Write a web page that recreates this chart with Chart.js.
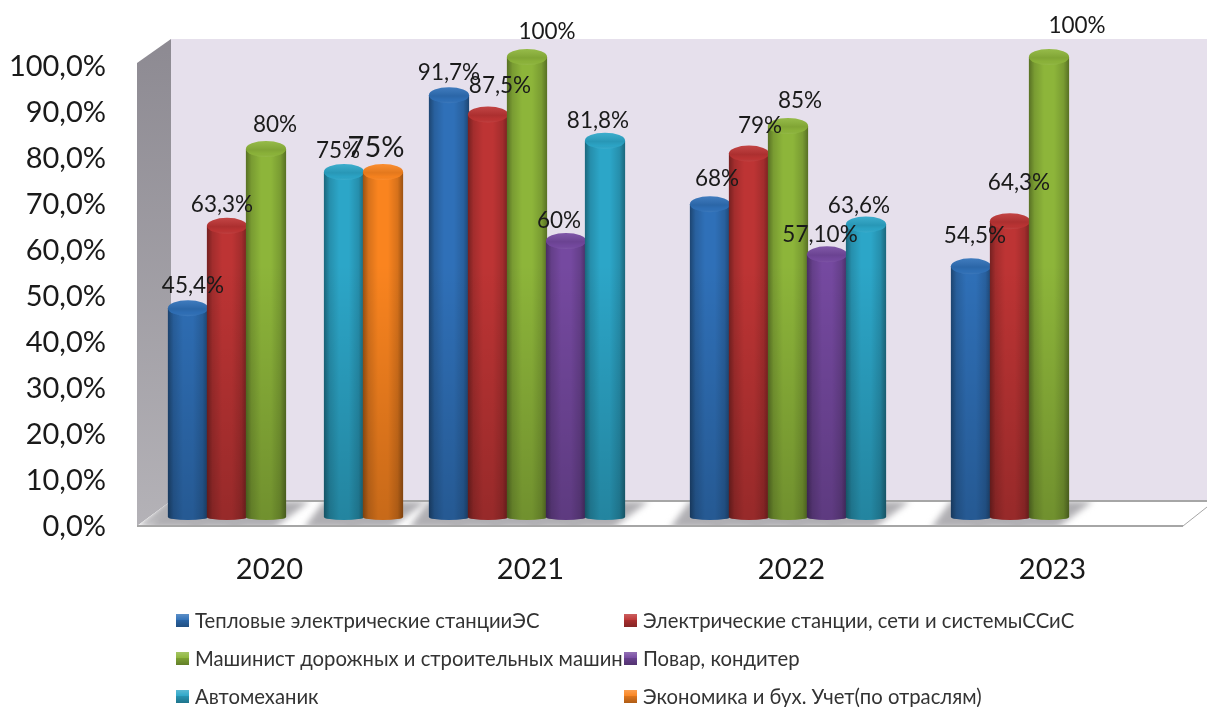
<!DOCTYPE html>
<html><head><meta charset="utf-8">
<style>html,body{margin:0;padding:0;background:#fff}canvas{display:block}</style>
<script src="https://cdn.jsdelivr.net/npm/chart.js@4/dist/chart.umd.min.js"></script>
</head><body><canvas id="c" width="1207" height="707"></canvas>
<script>
const categories = ['2020','2021','2022','2023'];
const seriesNames = ['Тепловые электрические станцииЭС','Электрические станции, сети и системыССиС','Машинист дорожных и строительных машин','Повар, кондитер','Автомеханик','Экономика и бух. Учет(по отраслям)'];
const teplovye = [45.4, 91.7, 68, 54.5];
const elektro = [63.3, 87.5, 79, 64.3];
const mashinist = [80, 100, 85, 100];
const povar = [null, 60, 57.1, null];
const avtomehanik = [75, 81.8, 63.6, null];
const ekonomika = [75, null, null, null];
const teplovyeLabels = ['45,4%','91,7%','68%','54,5%'];
const elektroLabels = ['63,3%','87,5%','79%','64,3%'];
const mashinistLabels = ['80%','100%','85%','100%'];
const povarLabels = [null,'60%','57,10%',null];
const avtomehanikLabels = ['75%','81,8%','63,6%',null];
const ekonomikaLabels = ['75%',null,null,null];

const allValues = [teplovye, elektro, mashinist, povar, avtomehanik, ekonomika];
const allLabels = [teplovyeLabels, elektroLabels, mashinistLabels, povarLabels, avtomehanikLabels, ekonomikaLabels];
const colors = ['#2f70b8','#bd3434','#8db53a','#7549a0','#2ca6c8','#fa841f'];
// hand-placed label nudges of the original, relative to the top of each bar
const labelNudge = [
  [[5,-22],[0,-22],[7,-25],[4,-31]],
  [[-5,-21],[12,-29],[11,-28],[9,-38]],
  [[9,-24],[20,-25],[12,-25],[28,-31]],
  [null,[-7,-20],[-7,-20],null],
  [[-6,-21],[-7,-20],[-7,-19],null],
  [[-7,-24],null,null,null]
];
const FONT = 'Lato, Carlito, "Open Sans", sans-serif';
const DX = 16, DY = -10, DEPTH_X = 32, DEPTH_Y = 25, CAP_RY = 8, FOOT_RY = 3;

const scene = {
  id: 'scene',
  beforeDraw(chart) {
    const {ctx, chartArea: a, scales: {y}} = chart;
    const yF = y.getPixelForValue(0) - 1, y100 = y.getPixelForValue(100) - 1;
    const wallTop = y100 - 27, wallX = a.left + DEPTH_X, backY = yF - DEPTH_Y;
    ctx.save();
    // back wall
    ctx.fillStyle = '#e6e0ec';
    ctx.fillRect(wallX, wallTop, chart.width - wallX, backY - wallTop);
    // side wall
    const g = ctx.createLinearGradient(0, wallTop, 0, yF);
    g.addColorStop(0, '#8d8a92'); g.addColorStop(1, '#b4b2b7');
    ctx.fillStyle = g;
    ctx.beginPath();
    ctx.moveTo(a.left - 2, y100 - 3); ctx.lineTo(wallX, wallTop);
    ctx.lineTo(wallX, backY); ctx.lineTo(a.left - 2, yF);
    ctx.closePath(); ctx.fill();
    // floor
    const floor = new Path2D();
    floor.moveTo(a.left - 2, yF); floor.lineTo(wallX, backY);
    floor.lineTo(chart.width, backY); floor.lineTo(chart.width, yF - 19);
    floor.lineTo(a.right, yF); floor.closePath();
    ctx.fillStyle = '#ffffff'; ctx.fill(floor);
    ctx.save();
    ctx.clip(floor);
    ctx.filter = 'blur(3px)';
    ctx.fillStyle = '#b0afb3';
    ctx.beginPath();
    ctx.moveTo(a.left - 2, yF); ctx.lineTo(wallX, backY);
    ctx.lineTo(a.left + 50, backY); ctx.lineTo(a.left + 10, yF); ctx.closePath(); ctx.fill();
    allValues.forEach((vals, i) => {
      const meta = chart.getDatasetMeta(i);
      vals.forEach((v, j) => {
        if (v === null) return;
        const el = meta.data[j], x = el.x + DX, hw = el.width / 2;
        ctx.beginPath();
        ctx.moveTo(x - hw - 20, yF + 2); ctx.lineTo(x + hw - 12, yF + 2);
        ctx.lineTo(x + hw + 24, backY); ctx.lineTo(x - hw, backY);
        ctx.closePath(); ctx.fill();
      });
    });
    ctx.restore();
    ctx.strokeStyle = '#a6a6a6'; ctx.lineWidth = 2;
    ctx.beginPath();
    ctx.moveTo(wallX, backY); ctx.lineTo(chart.width, backY);
    ctx.moveTo(a.left - 2, yF); ctx.lineTo(a.right, yF);
    ctx.stroke();
    ctx.lineWidth = 1;
    ctx.beginPath(); ctx.moveTo(a.right, yF); ctx.lineTo(chart.width, yF - 19); ctx.stroke();
    ctx.restore();
  },
  beforeDatasetsDraw(chart) {
    const ctx = chart.ctx;
    ctx.save();
    ctx.translate(DX, DY);
    allValues.forEach((vals, i) => {
      const meta = chart.getDatasetMeta(i);
      vals.forEach((v, j) => {
        if (v === null) return;
        const el = meta.data[j];
        ctx.fillStyle = colors[i];
        ctx.beginPath(); ctx.ellipse(el.x, el.base, el.width / 2, FOOT_RY, 0, 0, Math.PI * 2); ctx.fill();
      });
      meta.controller.draw();
      vals.forEach((v, j) => {
        if (v === null) return;
        const el = meta.data[j], hw = el.width / 2, l = el.x - hw;
        // body + foot shading
        const body = new Path2D();
        body.moveTo(l, el.y); body.lineTo(l + el.width, el.y); body.lineTo(l + el.width, el.base);
        body.ellipse(el.x, el.base, hw, FOOT_RY, 0, 0, Math.PI);
        body.closePath();
        const h = ctx.createLinearGradient(l, 0, l + el.width, 0);
        h.addColorStop(0, 'rgba(0,0,0,.38)');
        h.addColorStop(.14, 'rgba(0,0,0,.14)');
        h.addColorStop(.38, 'rgba(0,0,0,0)');
        h.addColorStop(.62, 'rgba(0,0,0,0)');
        h.addColorStop(.86, 'rgba(0,0,0,.14)');
        h.addColorStop(1, 'rgba(0,0,0,.38)');
        ctx.fillStyle = h; ctx.fill(body);
        const yTop = chart.scales.y.getPixelForValue(100);
        const vg = ctx.createLinearGradient(0, yTop, 0, el.base);
        vg.addColorStop(0, 'rgba(0,0,0,0)');
        vg.addColorStop(.45, 'rgba(0,0,0,0)');
        vg.addColorStop(1, 'rgba(0,0,0,.2)');
        ctx.fillStyle = vg; ctx.fill(body);
        // cap
        ctx.fillStyle = colors[i];
        ctx.beginPath(); ctx.ellipse(el.x, el.y, hw, CAP_RY, 0, 0, Math.PI * 2); ctx.fill();
        const c = ctx.createLinearGradient(0, el.y - CAP_RY, 0, el.y + CAP_RY);
        c.addColorStop(0, 'rgba(255,255,255,.08)');
        c.addColorStop(.55, 'rgba(0,0,0,.09)');
        c.addColorStop(.8, 'rgba(0,0,0,.02)');
        c.addColorStop(1, 'rgba(255,255,255,.08)');
        ctx.fillStyle = c; ctx.fill();
      });
    });
    ctx.restore();
    return false;
  },
  afterDraw(chart) {
    const ctx = chart.ctx;
    ctx.save();
    ctx.textAlign = 'center'; ctx.textBaseline = 'middle';
    allLabels.forEach((labs, i) => {
      const meta = chart.getDatasetMeta(i);
      labs.forEach((t, j) => {
        if (t === null) return;
        const el = meta.data[j], n = labelNudge[i][j];
        ctx.fillStyle = '#1a1a1a';
        ctx.font = (i === 5 ? '29px ' : '22.5px ') + FONT;
        ctx.fillText(t, el.x + DX + n[0], el.y + DY + n[1]);
      });
    });
    // legend: two columns, three rows
    ctx.textAlign = 'left';
    ctx.font = '20.3px ' + FONT;
    seriesNames.forEach((name, i) => {
      const x = i % 2 ? 624 : 176, y = 621 + Math.floor(i / 2) * 38;
      ctx.fillStyle = colors[i];
      ctx.fillRect(x, y - 7, 13, 13);
      const g = ctx.createLinearGradient(0, y - 7, 0, y + 6);
      g.addColorStop(0, 'rgba(255,255,255,.22)');
      g.addColorStop(.5, 'rgba(255,255,255,0)');
      g.addColorStop(.5, 'rgba(0,0,0,.12)');
      g.addColorStop(1, 'rgba(0,0,0,.3)');
      ctx.fillStyle = g; ctx.fillRect(x, y - 7, 13, 13);
      ctx.fillStyle = '#333333';
      ctx.fillText(name, x + 19, y);
    });
    ctx.restore();
  }
};

new Chart(document.getElementById('c'), {
  type: 'bar',
  data: {
    labels: categories,
    datasets: allValues.map((vals, i) => ({
      label: seriesNames[i], data: vals, backgroundColor: colors[i],
      categoryPercentage: 0.8966, barPercentage: 1.03, clip: false
    }))
  },
  options: {
    responsive: false, animation: false,
    layout: { padding: { top: 67, right: 24, left: 0, bottom: 0 } },
    plugins: { legend: { display: false }, tooltip: { enabled: false } },
    scales: {
      x: {
        grid: { display: false, drawTicks: false }, border: { display: false },
        ticks: { color: '#1a1a1a', font: { family: FONT, size: 29 }, padding: 25, maxRotation: 0 },
        afterFit: s => { s.height = 180; }
      },
      y: {
        min: 0, max: 100,
        grid: { display: false, drawTicks: false }, border: { display: false },
        ticks: { stepSize: 10, color: '#1a1a1a', font: { family: FONT, size: 29 }, padding: 33,
          callback: v => v.toFixed(1).replace('.', ',') + '%' },
        afterFit: s => { s.width = 139; }
      }
    }
  },
  plugins: [scene]
});
</script></body></html>
